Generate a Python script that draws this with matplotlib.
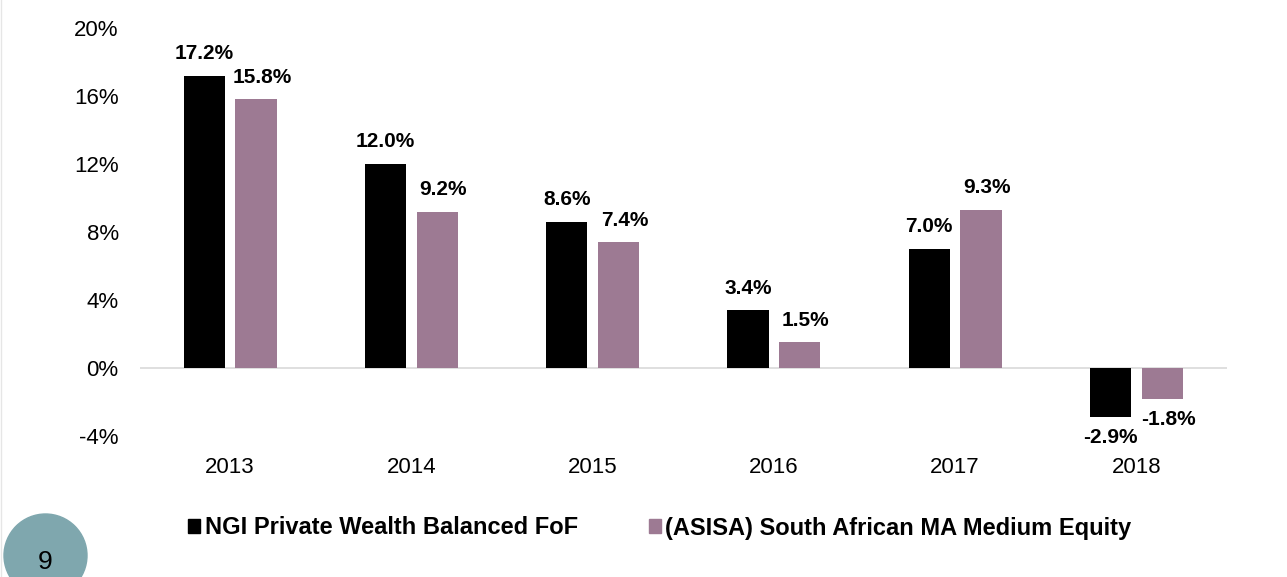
import matplotlib
matplotlib.use("Agg")
import matplotlib.pyplot as plt
import matplotlib.patches as mpatches
import matplotlib.lines as mlines
import numpy as np

plt.rcParams['font.family'] = ['Liberation Sans', 'DejaVu Sans']

years = ["2013", "2014", "2015", "2016", "2017", "2018"]
ngi = [17.2, 12.0, 8.6, 3.4, 7.0, -2.9]
asisa = [15.8, 9.2, 7.4, 1.5, 9.3, -1.8]
series_names = ["NGI Private Wealth Balanced FoF",
                "(ASISA) South African MA Medium Equity"]
yticks = [-4, 0, 4, 8, 12, 16, 20]

black = "#000000"
purple = "#9D7A93"

fig = plt.figure(figsize=(12.87, 5.77), dpi=100)
ax = fig.add_axes([0.1084, 0.2444, 0.845, 0.7071])

x = np.arange(len(years))
w = 0.227
off = 0.143
b1 = ax.bar(x - off, ngi, width=w, color=black)
b2 = ax.bar(x + off, asisa, width=w, color=purple)

for bars, vals, dx in ((b1, ngi, 0), (b2, asisa, 0.033)):
    for rect, v in zip(bars, vals):
        cx = rect.get_x() + rect.get_width() / 2 + dx
        if v >= 0:
            ax.annotate(f"{v:.1f}%", (cx, v), xytext=(0, 9), textcoords="offset points",
                        ha="center", va="bottom", fontsize=15, fontweight="bold")
        else:
            ax.annotate(f"{v:.1f}%", (cx, v), xytext=(0, -8), textcoords="offset points",
                        ha="center", va="top", fontsize=15, fontweight="bold")

ax.set_xlim(-0.5, len(years) - 0.5)
ax.set_ylim(-4, 20)
ax.set_yticks(yticks)
ax.set_yticklabels([f"{t}%" for t in yticks])
ax.set_xticks(x)
ax.set_xticklabels(years)
ax.tick_params(axis="both", length=0, labelsize=16)
ax.tick_params(axis="y", pad=15)
ax.tick_params(axis="x", pad=15)
for s in ax.spines.values():
    s.set_visible(False)
ax.axhline(0, color="#d9d9d9", lw=1.2, zorder=0)

handles = [mpatches.Patch(color=black, label=series_names[0]),
           mpatches.Patch(color=purple, label=series_names[1])]
fig.legend(handles=handles, loc="center", bbox_to_anchor=(660 / 1287, 1 - 528 / 577),
           ncol=2, frameon=False, handlelength=0.5, handleheight=0.5,
           handletextpad=0.2, columnspacing=3.0,
           prop={"weight": "bold", "size": 17})

# page number badge
circ = mpatches.Circle((0.455, (577 - 555.5) / 100), 0.415,
                       transform=fig.dpi_scale_trans, color="#7FA7AE", clip_on=False)
fig.patches.append(circ)
fig.text(45.5 / 1287, 1 - 562 / 577, "9", ha="center", va="center", fontsize=19)

# thin page edge on the left
fig.lines.append(mlines.Line2D([0.5 / 1287, 0.5 / 1287], [0, 1], transform=fig.transFigure,
                               color="#e6e6e6", lw=1))

fig.savefig("out.png", dpi=100)
